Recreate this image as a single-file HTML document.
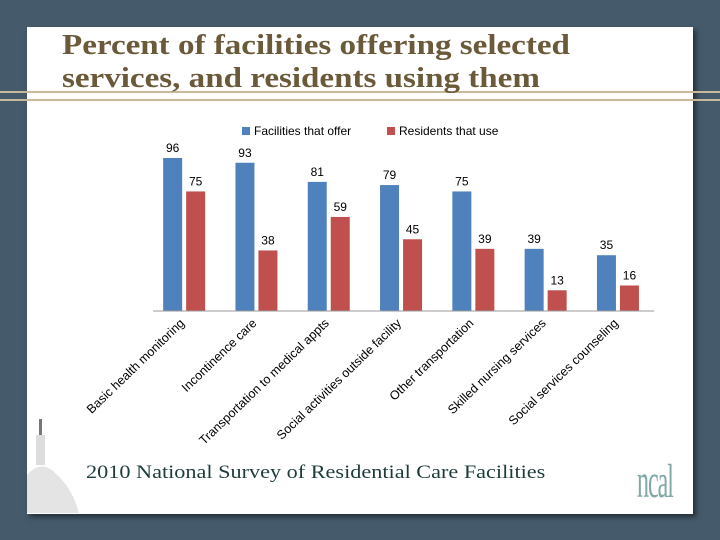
<!DOCTYPE html>
<html><head><meta charset="utf-8"><style>
body{margin:0;width:720px;height:540px;background:#455a6b;overflow:hidden;position:relative}
#panel{position:absolute;left:27px;top:27px;width:666px;height:487px;background:#fff;box-shadow:3px 3px 5px rgba(0,0,0,.5)}
.rule{position:absolute;left:0;width:720px;height:2px;background:#c8b99a}
#title{position:absolute;left:62px;top:29px;font:bold 29px/33px "Liberation Serif",serif;color:#6b5a3a;margin:0;transform:scaleX(1.14);transform-origin:left top;white-space:nowrap}
#footer{position:absolute;left:86px;top:462px;font:19px "Liberation Serif",serif;color:#1e3b3b;transform:scaleX(1.17);transform-origin:left top;white-space:nowrap}
#logo{position:absolute;left:637px;top:458px;font:48px/48px "Liberation Serif",serif;color:#7fa9a6;transform:scaleX(0.5);transform-origin:left top;letter-spacing:-2px}
</style></head><body>
<div id="panel"></div>
<div class="rule" style="top:91px"></div>
<div class="rule" style="top:99px"></div>
<h1 id="title">Percent of facilities offering selected<br>services, and residents using them</h1>
<svg id="chart" width="720" height="540" style="position:absolute;left:0;top:0"></svg>
<div id="footer">2010 National Survey of Residential Care Facilities</div>
<div id="logo">ncal</div>
<svg width="60" height="100" style="position:absolute;left:27px;top:413px">
<rect x="9" y="22" width="9" height="30" fill="#ddd"/><path d="M0 100 L0 62 Q15 45 30 62 Q45 75 52 100Z" fill="#e4e4e4"/><rect x="12" y="6" width="3" height="16" fill="#777"/>
</svg>
<script>
const categories=["Basic health monitoring","Incontinence care","Transportation to medical appts","Social activities outside facility","Other transportation","Skilled nursing services","Social services counseling"];
const facilities=[96,93,81,79,75,39,35];
const residents=[75,38,59,45,39,13,16];
const seriesNames=["Facilities that offer","Residents that use"];
const svg=document.getElementById('chart');
const NS='http://www.w3.org/2000/svg';
const x0=148,gw=72.3,base=311,k=1.594,bw=19;
const y=v=>base-v*k;
const gx=i=>x0+gw*i+gw/2;
function mk(t,a){const e=document.createElementNS(NS,t);for(const n in a)e.setAttribute(n,a[n]);svg.appendChild(e);return e;}
const colors=['#4f81bd','#c0504d'];
[facilities,residents].forEach((s,si)=>{
 s.forEach((v,i)=>{
  const bx=si===0?gx(i)-bw-2:gx(i)+2;
  const r=mk('rect',{x:bx,y:y(v),width:bw,height:v*k,fill:colors[si]});
  
  
  const t=mk('text',{x:bx+bw/2,y:y(v)-6,'text-anchor':'middle','font-family':'Liberation Sans, sans-serif','font-size':12,fill:'#000'});
  t.textContent=v;
  
  
 });
});
const ax=mk('line',{x1:x0+5,y1:base,x2:x0+gw*7,y2:base,stroke:'#999','stroke-width':1});


categories.forEach((c,i)=>{
 const cx=gx(i)+1,cy=base+13;
 const t=mk('text',{x:cx,y:cy,'text-anchor':'end','font-family':'Liberation Sans, sans-serif','font-size':12.5,fill:'#000',transform:`rotate(-44 ${cx} ${cy})`});
 t.textContent=c;
 
 
});
const lx=[242,387];
seriesNames.forEach((n,i)=>{
 const r=mk('rect',{x:lx[i],y:127,width:8,height:8,fill:colors[i]});
 
 
 const t=mk('text',{x:lx[i]+12,y:135,'font-family':'Liberation Sans, sans-serif','font-size':12,fill:'#000'});
 t.textContent=n;
 
 
});
</script>
</body></html>
